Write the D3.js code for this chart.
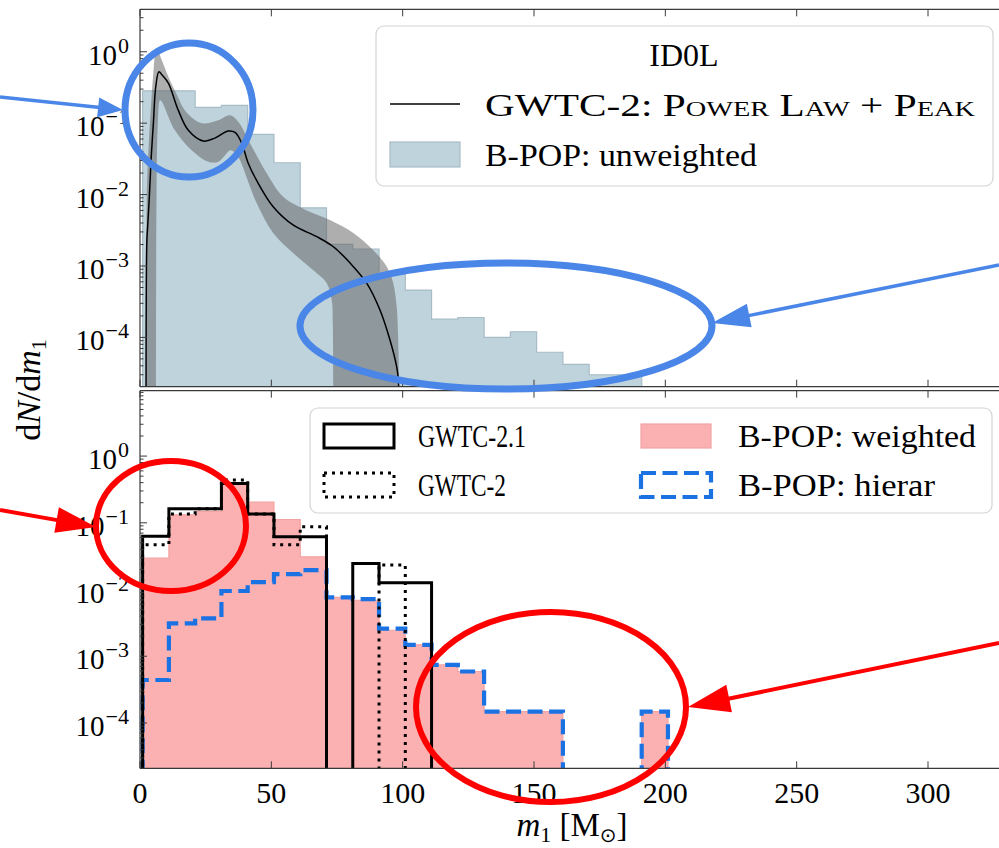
<!DOCTYPE html>
<html><head><meta charset="utf-8">
<script src="https://cdn.jsdelivr.net/npm/d3@7"></script>
<style>
html,body{margin:0;padding:0;background:#fff;}
svg{display:block;font-family:"Liberation Serif","DejaVu Serif",serif;}
</style></head>
<body><svg id="c" width="999" height="848"></svg>
<script>
// ---------- DATA ----------
const xTicks = [0, 50, 100, 150, 200, 250, 300];
const yTickExps = [0, -1, -2, -3, -4];

// top panel: B-POP unweighted histogram (bin edges in M_sun)
const topEdges = [1,11,21,31,41,51,61,71,81,91,101,111,121,131,141,151,161,171,181,191];
const unweighted = [0.284,0.284,0.166,0.178,0.0697,0.0279,0.00653,0.00201,0.00173,0.00076,0.00046,0.00018,0.00019,0.0001,0.00012,0.000062,0.000042,0.00003,0.00003];

// GWTC-2 Power Law + Peak median curve and band
const plM = [2.3,2.6,2.9,3.6,4.3,5.1,6.0,7.2,8.5,10.8,14.6,18.4,24.1,28.5,33.6,36.2,38.7,41.2,44.4,50.7,58.4,67.3,73.6,80,86.3,91.4,95.2,97.7,98.3,98.8];
const plV = [1e-5,0.0022,0.0035,0.01,0.035,0.1,0.324,0.525,0.468,0.363,0.151,0.0794,0.0562,0.0617,0.0776,0.0741,0.0525,0.0275,0.0158,0.00676,0.00372,0.00257,0.00186,0.0011,0.000575,0.00024,0.000091,0.000039,0.000027,0.0000063];
const upM = [2.4,2.6,3.2,4.2,5.1,6.3,8.3,10.8,14.0,17.1,23.5,29.8,34.3,37.4,41.9,48.2,54.5,63.5,72.3,81.2,88.8,93.9,96.4,97.7,98.3,98.8];
const upV = [0.0000063,0.01,0.04,0.178,0.5,1.12,0.76,0.447,0.251,0.151,0.1,0.11,0.129,0.105,0.0525,0.02,0.0093,0.006,0.0044,0.0029,0.00166,0.00098,0.000575,0.00027,0.000091,0.0000063];
const loM = [6.1,6.3,6.8,7.6,8.3,13.3,19.7,26.0,29.8,32.4,34.3,36.5,38.1,44.4,50.7,58.4,66.0,71.1,73.0,73.4,73.6];
const loV = [0.0000063,0.01,0.1,0.209,0.2,0.0794,0.0417,0.0288,0.0288,0.0355,0.0417,0.038,0.0302,0.0076,0.0029,0.00151,0.00087,0.000575,0.00033,0.000158,0.0000063];

// bottom panel histograms
const botEdges = [1,11,21,31,41,51,61,71,81,91,101,111,121,131,141,151,161,171,181,191,201];
const gwtc21 = [0.063,0.162,0.162,0.389,0.135,0.0617,0.0617,0,0.0245,0.0126,0.0126];
const gwtc2  = [0.0468,0.135,0.162,0.437,0.135,0.0468,0.087,0,0,0.0234];
const weighted = [0.0295,0.132,0.148,0.372,0.204,0.112,0.0309,0.0076,0.0069,0.00245,0.00148,0.00074,0.00059,0.000148,0.000148,0.000148,0,0,0,0.000148];
const hierar = [0.00044,0.0031,0.0037,0.0095,0.0129,0.017,0.0195,0.0076,0.0072,0.0026,0.00148,0.00074,0.00059,0.000148,0.000148,0.000148,0,0,0,0.000148];

// ---------- LAYOUT ----------
const svg = d3.select("#c");
const X0 = 140, PXU = 2.6267;
const x = d3.scaleLinear().domain([0,330]).range([X0, X0 + 330*PXU]);
const pTop = {y0: 9.3, y1: 386.7};
const pBot = {y0: 390.7, y1: 768.3};
const yT = d3.scaleLog().domain([2.04e-5, 3.93]).range([pTop.y1, pTop.y0]);
const yB = d3.scaleLog().domain([2.09e-5, 9.55]).range([pBot.y1, pBot.y0]);
const FLOOR = 1e-8;

const defs = svg.append("defs");
defs.append("clipPath").attr("id","clipT").append("rect").attr("x",X0).attr("y",pTop.y0).attr("width",1000).attr("height",pTop.y1-pTop.y0);
defs.append("clipPath").attr("id","clipB").append("rect").attr("x",X0).attr("y",pBot.y0).attr("width",1000).attr("height",pBot.y1-pBot.y0);

function stepPts(edges, vals){
  const pts = [[edges[0], FLOOR]];
  vals.forEach((v,i)=>{ const vv = v>0 ? v : FLOOR; pts.push([edges[i], vv]); pts.push([edges[i+1], vv]); });
  pts.push([edges[vals.length], FLOOR]);
  return pts;
}

// ---------- TOP PANEL ----------
const gT = svg.append("g").attr("clip-path","url(#clipT)");
const lineT = d3.line().x(d=>x(d[0])).y(d=>yT(d[1]));
gT.append("path").attr("d", lineT(stepPts(topEdges, unweighted)) + "Z")
  .attr("fill","#bfd3dc").attr("stroke","#a7bcc6").attr("stroke-width",1.2);

const curveT = d3.line().x(d=>x(d[0])).y(d=>yT(d[1])).curve(d3.curveCatmullRom.alpha(0.5));
const upPts = upM.map((m,i)=>[m, upV[i]]);
const loPts = loM.map((m,i)=>[m, loV[i]]).reverse();
gT.append("path").attr("d", curveT(upPts) + curveT(loPts).replace(/^M/,"L") + "Z")
  .attr("fill","#5e5e5e").attr("fill-opacity",0.5).attr("stroke","none");
gT.append("path").attr("d", curveT(plM.map((m,i)=>[m, plV[i]])))
  .attr("fill","none").attr("stroke","#000").attr("stroke-width",1.5);

// ---------- BOTTOM PANEL ----------
const gB = svg.append("g").attr("clip-path","url(#clipB)");
const lineB = d3.line().x(d=>x(d[0])).y(d=>yB(d[1]));
gB.append("path").attr("d", lineB(stepPts(botEdges, weighted)) + "Z")
  .attr("fill","#fbb1b1").attr("stroke","#f2a3a3").attr("stroke-width",1.2);
gB.append("path").attr("d", lineB(stepPts(botEdges, hierar)))
  .attr("fill","none").attr("stroke","#1b72e3").attr("stroke-width",4.2).attr("stroke-dasharray","15 6.5");
gB.append("path").attr("d", lineB(stepPts(botEdges, gwtc21)))
  .attr("fill","none").attr("stroke","#000").attr("stroke-width",3).attr("stroke-linejoin","miter");
gB.append("path").attr("d", lineB(stepPts(botEdges, gwtc2)))
  .attr("fill","none").attr("stroke","#000").attr("stroke-width",3).attr("stroke-dasharray","3 5");

// ---------- AXES ----------
const AX = "#3a3a3a";
function frame(p, y, showXLabels){
  const g = svg.append("g");
  g.append("line").attr("x1",X0).attr("x2",1000).attr("y1",p.y0).attr("y2",p.y0).attr("stroke",AX).attr("stroke-width",1.2);
  g.append("line").attr("x1",X0).attr("x2",1000).attr("y1",p.y1).attr("y2",p.y1).attr("stroke",AX).attr("stroke-width",1.2);
  g.append("line").attr("x1",X0).attr("x2",X0).attr("y1",p.y0).attr("y2",p.y1).attr("stroke",AX).attr("stroke-width",1.2);
  xTicks.forEach(t=>{
    g.append("line").attr("x1",x(t)).attr("x2",x(t)).attr("y1",p.y1).attr("y2",p.y1-7).attr("stroke",AX).attr("stroke-width",1);
    g.append("line").attr("x1",x(t)).attr("x2",x(t)).attr("y1",p.y0).attr("y2",p.y0+7).attr("stroke",AX).attr("stroke-width",1);
    if(showXLabels){
      g.append("text").attr("x",x(t)).attr("y",p.y1+35).attr("text-anchor","middle")
        .attr("font-size",30).text(String(t));
    }
  });
  const [lo, hi] = y.domain();
  for(let k=-6;k<=1;k++){
    for(let j=1;j<10;j++){
      const v = j*Math.pow(10,k);
      if(v<lo || v>hi) continue;
      const yy = y(v);
      const len = j===1 ? 7 : 3.5;
      g.append("line").attr("x1",X0).attr("x2",X0+len).attr("y1",yy).attr("y2",yy).attr("stroke",AX).attr("stroke-width",1);
    }
  }
  yTickExps.forEach(e=>{
    const yy = y(Math.pow(10,e));
    const t = g.append("text").attr("x",129).attr("y",yy+13).attr("text-anchor","end").attr("font-size",29);
    t.append("tspan").text("10");
    t.append("tspan").attr("dy",-12).attr("dx",1).attr("font-size",22).text(e===0 ? "0" : "\u2212" + Math.abs(e));
  });
}
frame(pTop, yT, false);
frame(pBot, yB, true);

// axis labels
const xl = svg.append("text").attr("x",572).attr("y",836).attr("text-anchor","middle").attr("font-size",33);
xl.append("tspan").attr("font-style","italic").text("m");
xl.append("tspan").attr("font-size",22).attr("dy",6).text("1");
xl.append("tspan").attr("dy",-6).text(" [M");
xl.append("tspan").attr("font-size",20).attr("dy",6).attr("font-family","DejaVu Sans").text("\u2299");
xl.append("tspan").attr("dy",-6).text("]");

const yl = svg.append("text").attr("transform","translate(40,390) rotate(-90)").attr("text-anchor","middle").attr("font-size",34);
yl.append("tspan").text("d");
yl.append("tspan").attr("font-style","italic").text("N");
yl.append("tspan").text("/d");
yl.append("tspan").attr("font-style","italic").text("m");
yl.append("tspan").attr("font-size",22).attr("dy",6).text("1");

// ---------- LEGENDS ----------
const lgT = svg.append("g");
lgT.append("rect").attr("x",376).attr("y",26).attr("width",617).attr("height",160).attr("rx",8)
  .attr("fill","#fff").attr("fill-opacity",0.85).attr("stroke","#d4d4d4").attr("stroke-width",1.2);
lgT.append("text").attr("x",684).attr("y",66).attr("text-anchor","middle").attr("font-size",32).text("ID0L");
lgT.append("line").attr("x1",390).attr("x2",460).attr("y1",104).attr("y2",104).attr("stroke","#000").attr("stroke-width",1.5);
const t2 = lgT.append("text").attr("x",485).attr("y",116).attr("font-size",32).attr("textLength",490).attr("lengthAdjust","spacingAndGlyphs");
t2.append("tspan").text("GWTC-2: ");
t2.append("tspan").attr("font-variant","small-caps").text("Power Law + Peak");
lgT.append("rect").attr("x",390).attr("y",142).attr("width",70).attr("height",25)
  .attr("fill","#bfd3dc").attr("stroke","#a7bcc6").attr("stroke-width",1.2);
lgT.append("text").attr("x",485).attr("y",166).attr("font-size",32).attr("textLength",272).attr("lengthAdjust","spacingAndGlyphs").text("B-POP: unweighted");

const lgB = svg.append("g");
lgB.append("rect").attr("x",310).attr("y",408).attr("width",682).attr("height",105).attr("rx",8)
  .attr("fill","#fff").attr("fill-opacity",0.85).attr("stroke","#d4d4d4").attr("stroke-width",1.2);
lgB.append("rect").attr("x",324).attr("y",424).attr("width",70).attr("height",24)
  .attr("fill","none").attr("stroke","#000").attr("stroke-width",3);
lgB.append("text").attr("x",418).attr("y",447).attr("font-size",32).attr("textLength",108).attr("lengthAdjust","spacingAndGlyphs").text("GWTC-2.1");
lgB.append("rect").attr("x",324).attr("y",473).attr("width",70).attr("height",24)
  .attr("fill","none").attr("stroke","#000").attr("stroke-width",3).attr("stroke-dasharray","3 5");
lgB.append("text").attr("x",418).attr("y",496).attr("font-size",32).attr("textLength",88).attr("lengthAdjust","spacingAndGlyphs").text("GWTC-2");
lgB.append("rect").attr("x",641).attr("y",424).attr("width",70).attr("height",24)
  .attr("fill","#fbb1b1").attr("stroke","#f2a3a3").attr("stroke-width",1.2);
lgB.append("text").attr("x",738).attr("y",447).attr("font-size",32).attr("textLength",238).attr("lengthAdjust","spacingAndGlyphs").text("B-POP: weighted");
lgB.append("rect").attr("x",641).attr("y",473).attr("width",70).attr("height",24)
  .attr("fill","none").attr("stroke","#1b72e3").attr("stroke-width",4.2).attr("stroke-dasharray","15 6.5");
lgB.append("text").attr("x",738).attr("y",496).attr("font-size",32).attr("textLength",197).attr("lengthAdjust","spacingAndGlyphs").text("B-POP: hierar");

// ---------- ANNOTATIONS ----------
const BLUE = "#4a86e8", RED = "#ff0000";
function arrow(x1,y1,x2,y2,hl,hw,lw,col){
  const dx=x2-x1, dy=y2-y1, L=Math.hypot(dx,dy), ux=dx/L, uy=dy/L;
  const bx=x2-ux*hl, by=y2-uy*hl;
  svg.append("line").attr("x1",x1).attr("y1",y1).attr("x2",bx+ux*2).attr("y2",by+uy*2).attr("stroke",col).attr("stroke-width",lw);
  svg.append("path").attr("d",`M${x2},${y2}L${bx-uy*hw},${by+ux*hw}L${bx+uy*hw},${by-ux*hw}Z`).attr("fill",col);
}
svg.append("ellipse").attr("cx",189).attr("cy",110).attr("rx",64).attr("ry",67).attr("fill","none").attr("stroke",BLUE).attr("stroke-width",7);
arrow(0,97,123,110,25,10,3.5,BLUE);
svg.append("ellipse").attr("cx",506).attr("cy",326).attr("rx",206).attr("ry",63).attr("fill","none").attr("stroke",BLUE).attr("stroke-width",7);
arrow(999,265,712,323,38,12,3.5,BLUE);
svg.append("ellipse").attr("cx",171).attr("cy",526).attr("rx",75).attr("ry",65).attr("fill","none").attr("stroke",RED).attr("stroke-width",6);
arrow(0,510,96,527,40,13,4,RED);
svg.append("ellipse").attr("cx",551).attr("cy",707).attr("rx",135).attr("ry",95).attr("fill","none").attr("stroke",RED).attr("stroke-width",6);
arrow(999,643,688,707,42,14,4,RED);
</script></body></html>
